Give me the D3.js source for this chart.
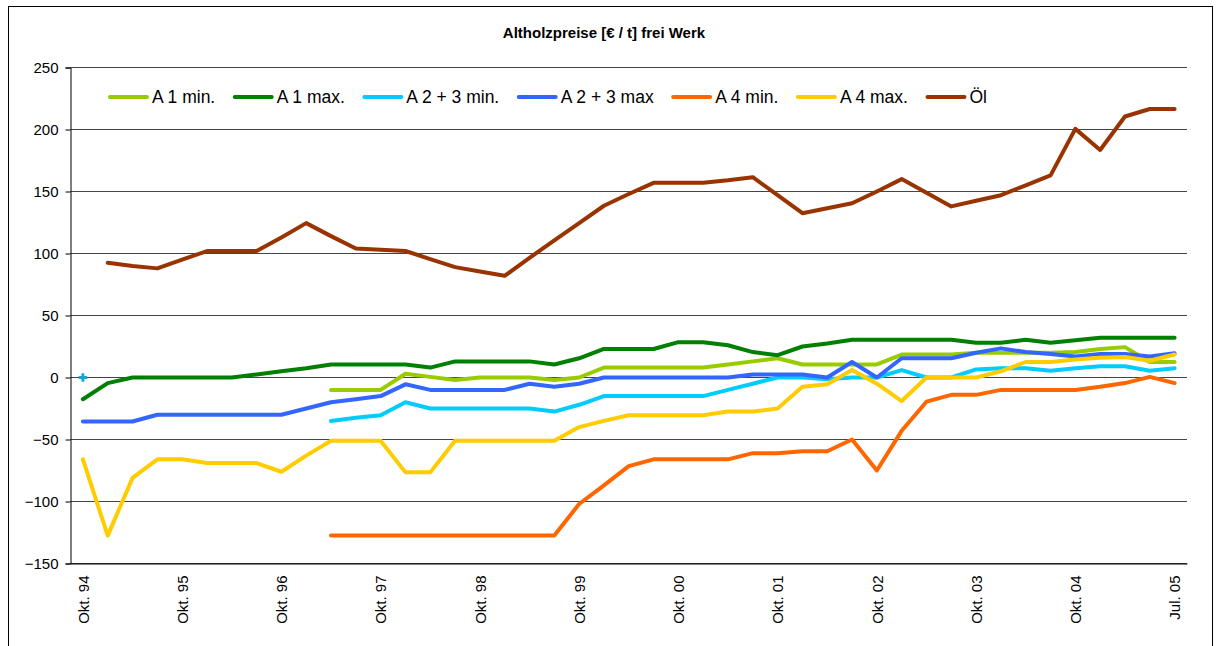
<!DOCTYPE html>
<html>
<head>
<meta charset="utf-8">
<script src="https://cdn.jsdelivr.net/npm/d3@7"></script>
<style>
  html, body { margin: 0; padding: 0; background: #fff; }
  svg { display: block; font-family: "Liberation Sans", Arial, sans-serif; }
</style>
</head>
<body>
<svg id="chart" width="1216" height="646"></svg>
<script>
const title = "Altholzpreise [€ / t] frei Werk";

const categories = [
  "Okt. 94","Jan. 95","Apr. 95","Jul. 95",
  "Okt. 95","Jan. 96","Apr. 96","Jul. 96",
  "Okt. 96","Jan. 97","Apr. 97","Jul. 97",
  "Okt. 97","Jan. 98","Apr. 98","Jul. 98",
  "Okt. 98","Jan. 99","Apr. 99","Jul. 99",
  "Okt. 99","Jan. 00","Apr. 00","Jul. 00",
  "Okt. 00","Jan. 01","Apr. 01","Jul. 01",
  "Okt. 01","Jan. 02","Apr. 02","Jul. 02",
  "Okt. 02","Jan. 03","Apr. 03","Jul. 03",
  "Okt. 03","Jan. 04","Apr. 04","Jul. 04",
  "Okt. 04","Jan. 05","Mrz. 05","Mai 05","Jul. 05"
];

const tickLabels = ["Okt. 94","Okt. 95","Okt. 96","Okt. 97","Okt. 98","Okt. 99",
  "Okt. 00","Okt. 01","Okt. 02","Okt. 03","Okt. 04","Jul. 05"];

const yTicks = [250, 200, 150, 100, 50, 0, -50, -100, -150];

const seriesNames = ["A 1 min.", "A 1 max.", "A 2 + 3 min.", "A 2 + 3 max", "A 4 min.", "A 4 max.", "Öl"];
const seriesColors = ["#99CC00", "#008000", "#00CCFF", "#3366FF", "#FF6600", "#FFCC00", "#993300"];

const a1min = [null,null,null,null,null,null,null,null,null,null,
  -10,-10,-10,3,0.5,-2,0,0,0,-2,
  0,8,8,8,8,8,10.5,13,15.5,10.5,
  10.5,10.5,10.5,18.5,18.5,18.5,20,20,20,20,
  20.5,23,24.5,12.5,12.5];

const a1max = [-17.5,-4.5,0,0,0,0,0,2.5,5,7.5,
  10.5,10.5,10.5,10.5,8,13,13,13,13,10.5,
  15.5,23,23,23,28.5,28.5,26,20.5,18,25,
  27.5,30.5,30.5,30.5,30.5,30.5,28,28,30.5,28,
  30,32,32,32,32];

const a23min = [0,null,null,null,null,null,null,null,null,null,
  -35,-32.5,-30.5,-20,-25,-25,-25,-25,-25,-27.5,
  -22,-15,-15,-15,-15,-15,-10,-5,0,0,
  -1.5,0,0,6,0,0,6.5,7.5,7.5,5.5,
  7.5,9,9,5.5,7.5];

const a23max = [-35.5,-35.5,-35.5,-30,-30,-30,-30,-30,-30,-25,
  -20,-17.5,-15,-5.5,-10,-10,-10,-10,-5,-7.5,
  -5,0,0,0,0,0,0,2.5,2.5,2.5,
  0,12.5,0,15.5,15.5,15.5,20,23.5,20.5,19,
  17,19,19,17,19.5];

const a4min = [null,null,null,null,null,null,null,null,null,null,
  -127.5,-127.5,-127.5,-127.5,-127.5,-127.5,-127.5,-127.5,-127.5,-127.5,
  -102,-87,-71.5,-66,-66,-66,-66,-61,-61,-59.5,
  -59.5,-50,-75,-43,-19.5,-14,-14,-10,-10,-10,
  -10,-7.5,-4.5,0.5,-4.5];

const a4max = [-66,-127.5,-81,-66,-66,-69,-69,-69,-76,-63,
  -51,-51,-51,-76.5,-76.5,-51,-51,-51,-51,-51,
  -40,-35,-30.5,-30.5,-30.5,-30.5,-27.5,-27.5,-25,-7.5,
  -5.5,6,-5,-19,0,0,0,5,12.5,12.5,
  14.5,16,16.5,13.5,18.5];

const oel = [null,92.5,90,88,95,102,102,102,113,124.5,
  114,104,103,102,95.5,89,85.5,82,96.5,110.5,
  124.5,138.5,148,157,157,157,159,161.5,147,132.5,
  136.5,140.5,150,160,149,138,142.5,147,155,163,
  200.5,183.5,210.5,216.5,216.5];

const seriesValues = [a1min, a1max, a23min, a23max, a4min, a4max, oel];

// ---------------------------------------------------------------
const svg = d3.select("#chart");

// outer frame
svg.append("rect")
  .attr("x", 8.5).attr("y", 6.5)
  .attr("width", 1204).attr("height", 700)
  .attr("fill", "none").attr("stroke", "#000").attr("stroke-width", 1);

// title
svg.append("text")
  .attr("x", 604).attr("y", 38)
  .attr("text-anchor", "middle")
  .attr("font-size", 15).attr("font-weight", "bold")
  .text(title);

const plotLeft = 70.5, plotRight = 1187, plotTop = 67.5, plotBottom = 563.5;

const x = d3.scalePoint()
  .domain(categories)
  .range([plotLeft, plotRight])
  .padding(0.5);

const y = d3.scaleLinear()
  .domain([-150, 250])
  .range([plotBottom, plotTop]);

// gridlines
svg.append("g")
  .selectAll("line")
  .data(yTicks)
  .join("line")
  .attr("x1", plotLeft).attr("x2", plotRight)
  .attr("y1", d => y(d)).attr("y2", d => y(d))
  .attr("stroke", "#444").attr("stroke-width", 1);

// y axis
const yAxis = d3.axisLeft(y)
  .tickValues(yTicks)
  .tickSize(5)
  .tickPadding(7)
  .tickFormat(d3.format("d"));

const gy = svg.append("g")
  .attr("transform", `translate(${plotLeft},0)`)
  .call(yAxis);
gy.select(".domain").attr("stroke", "#000");
gy.selectAll(".tick line").attr("stroke", "#000");
gy.selectAll("text")
  .attr("font-size", 15)
  .attr("font-family", "Liberation Sans, Arial, sans-serif")
  .attr("fill", "#000");

// x axis (labels only at every 4th category)
const xAxis = d3.axisBottom(x)
  .tickValues(categories.filter((c, i) => i % 4 === 0 && tickLabels.includes(c)))
  .tickSize(0)
  .tickPadding(0);

const gx = svg.append("g")
  .attr("transform", `translate(0,${plotBottom})`)
  .call(xAxis);
gx.select(".domain").attr("stroke", "#000");
gx.selectAll("text")
  .attr("font-size", 15)
  .attr("font-family", "Liberation Sans, Arial, sans-serif")
  .attr("fill", "#000")
  .attr("text-anchor", "end")
  .attr("transform", "translate(0,12) rotate(-90)")
  .attr("x", 0).attr("y", 0).attr("dy", "0.35em");

// lines
const line = d3.line()
  .defined(d => d.v !== null)
  .x(d => x(d.c))
  .y(d => y(d.v));

const gLines = svg.append("g");
seriesValues.forEach((vals, s) => {
  const pts = vals.map((v, i) => ({ c: categories[i], v: v, i: i }));
  gLines.append("path")
    .datum(pts)
    .attr("d", line)
    .attr("fill", "none")
    .attr("stroke", seriesColors[s])
    .attr("stroke-width", 4)
    .attr("stroke-linejoin", "round")
    .attr("stroke-linecap", "round");
  // isolated points get a small marker
  pts.forEach((p, i) => {
    if (p.v === null) return;
    const prev = i > 0 ? vals[i - 1] : null;
    const next = i < vals.length - 1 ? vals[i + 1] : null;
    if (prev === null && next === null) {
      gLines.append("path")
        .attr("d", d3.symbol().type(d3.symbolCross).size(40)())
        .attr("transform", `translate(${x(p.c)},${y(p.v)})`)
        .attr("fill", "#11a8d8");
    }
  });
});

// legend
const legend = svg.append("g").attr("transform", "translate(0,97)");
let lx = 110;
seriesNames.forEach((name, s) => {
  legend.append("line")
    .attr("x1", lx).attr("x2", lx + 37)
    .attr("y1", 0).attr("y2", 0)
    .attr("stroke", seriesColors[s])
    .attr("stroke-width", 4)
    .attr("stroke-linecap", "round");
  const t = legend.append("text")
    .attr("x", lx + 42).attr("y", 0).attr("dy", "0.36em")
    .attr("font-size", 17.5)
    .attr("fill", "#000")
    .text(name);
  lx = lx + 42 + t.node().getComputedTextLength() + 19.5;
});
</script>
</body>
</html>
